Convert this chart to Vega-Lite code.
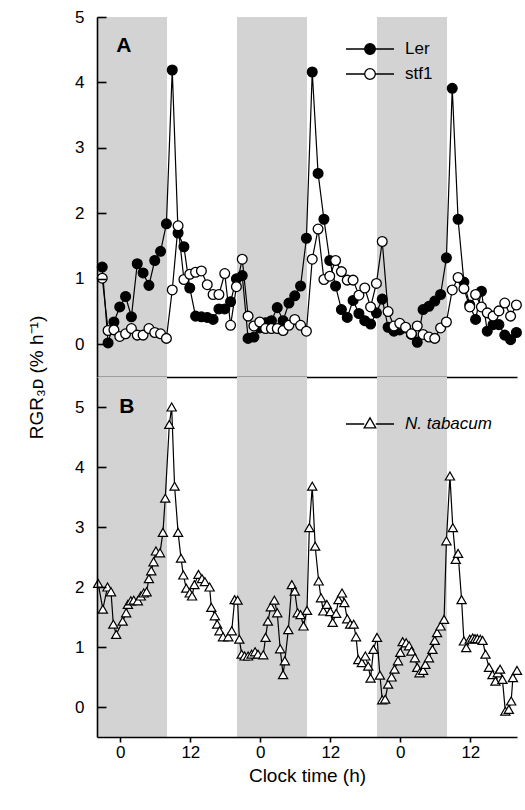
{
  "$schema": "https://vega.github.io/schema/vega-lite/v6.json",
  "background": "white",
  "padding": {"left": 27, "top": 8, "right": 5, "bottom": 5},
  "bounds": "flush",
  "spacing": 0,
  "config": {
    "font": "Liberation Sans",
    "view": {"stroke": null},
    "axis": {"grid": false, "domainColor": "black", "domainWidth": 1.6, "tickColor": "black", "tickWidth": 1.6, "labelColor": "black", "labelFont": "Liberation Sans", "labelFontSize": 17, "titleFont": "Liberation Sans", "titleFontSize": 19, "titleFontWeight": "normal", "titleColor": "black"},
    "legend": {"labelFont": "Liberation Sans", "labelFontSize": 17, "labelColor": "black"}
  },
  "datasets": {
    "nights": [{"start": -4, "end": 8}, {"start": 20, "end": 32}, {"start": 44, "end": 56}],
    "A": [
      {"series": "Ler", "t": -3.1, "v": 1.18}, {"series": "Ler", "t": -2.1, "v": 0.02}, {"series": "Ler", "t": -1.1, "v": 0.34}, {"series": "Ler", "t": -0.1, "v": 0.57},
      {"series": "Ler", "t": 0.9, "v": 0.73}, {"series": "Ler", "t": 1.9, "v": 0.42}, {"series": "Ler", "t": 2.9, "v": 1.23}, {"series": "Ler", "t": 3.9, "v": 1.09},
      {"series": "Ler", "t": 4.9, "v": 0.90}, {"series": "Ler", "t": 5.9, "v": 1.28}, {"series": "Ler", "t": 6.9, "v": 1.42}, {"series": "Ler", "t": 7.9, "v": 1.84},
      {"series": "Ler", "t": 8.9, "v": 4.19}, {"series": "Ler", "t": 9.9, "v": 1.70}, {"series": "Ler", "t": 10.9, "v": 1.49}, {"series": "Ler", "t": 11.9, "v": 0.86},
      {"series": "Ler", "t": 12.9, "v": 0.43}, {"series": "Ler", "t": 13.9, "v": 0.42}, {"series": "Ler", "t": 14.9, "v": 0.41}, {"series": "Ler", "t": 15.9, "v": 0.38},
      {"series": "Ler", "t": 16.9, "v": 0.54}, {"series": "Ler", "t": 17.9, "v": 0.54}, {"series": "Ler", "t": 18.9, "v": 0.65}, {"series": "Ler", "t": 19.9, "v": 1.00},
      {"series": "Ler", "t": 20.9, "v": 1.05}, {"series": "Ler", "t": 21.9, "v": 0.09}, {"series": "Ler", "t": 22.9, "v": 0.11}, {"series": "Ler", "t": 23.9, "v": 0.25},
      {"series": "Ler", "t": 24.9, "v": 0.33}, {"series": "Ler", "t": 25.9, "v": 0.36}, {"series": "Ler", "t": 26.9, "v": 0.56}, {"series": "Ler", "t": 27.9, "v": 0.36},
      {"series": "Ler", "t": 28.9, "v": 0.63}, {"series": "Ler", "t": 29.9, "v": 0.74}, {"series": "Ler", "t": 30.9, "v": 0.89}, {"series": "Ler", "t": 31.9, "v": 1.62},
      {"series": "Ler", "t": 32.9, "v": 4.16}, {"series": "Ler", "t": 33.9, "v": 2.61}, {"series": "Ler", "t": 34.9, "v": 1.91}, {"series": "Ler", "t": 35.9, "v": 1.28},
      {"series": "Ler", "t": 36.9, "v": 0.89}, {"series": "Ler", "t": 37.9, "v": 0.53}, {"series": "Ler", "t": 38.9, "v": 0.41}, {"series": "Ler", "t": 39.9, "v": 0.67},
      {"series": "Ler", "t": 40.9, "v": 0.47}, {"series": "Ler", "t": 41.9, "v": 0.36}, {"series": "Ler", "t": 42.9, "v": 0.31}, {"series": "Ler", "t": 43.9, "v": 0.48},
      {"series": "Ler", "t": 44.9, "v": 0.69}, {"series": "Ler", "t": 45.9, "v": 0.26}, {"series": "Ler", "t": 46.9, "v": 0.20}, {"series": "Ler", "t": 47.9, "v": 0.22},
      {"series": "Ler", "t": 48.9, "v": 0.25}, {"series": "Ler", "t": 49.9, "v": 0.15}, {"series": "Ler", "t": 50.9, "v": 0.03}, {"series": "Ler", "t": 51.9, "v": 0.53},
      {"series": "Ler", "t": 52.9, "v": 0.58}, {"series": "Ler", "t": 53.9, "v": 0.66}, {"series": "Ler", "t": 54.9, "v": 0.76}, {"series": "Ler", "t": 55.9, "v": 1.32},
      {"series": "Ler", "t": 56.9, "v": 3.91}, {"series": "Ler", "t": 57.9, "v": 1.91}, {"series": "Ler", "t": 58.9, "v": 0.95}, {"series": "Ler", "t": 59.9, "v": 0.60},
      {"series": "Ler", "t": 60.9, "v": 0.38}, {"series": "Ler", "t": 61.9, "v": 0.81}, {"series": "Ler", "t": 62.9, "v": 0.20}, {"series": "Ler", "t": 63.9, "v": 0.30},
      {"series": "Ler", "t": 64.9, "v": 0.30}, {"series": "Ler", "t": 65.9, "v": 0.14}, {"series": "Ler", "t": 66.9, "v": 0.07}, {"series": "Ler", "t": 67.9, "v": 0.18},
      {"series": "stf1", "t": -3.1, "v": 1.01}, {"series": "stf1", "t": -2.1, "v": 0.21}, {"series": "stf1", "t": -1.1, "v": 0.22}, {"series": "stf1", "t": -0.1, "v": 0.12},
      {"series": "stf1", "t": 0.9, "v": 0.16}, {"series": "stf1", "t": 1.9, "v": 0.24}, {"series": "stf1", "t": 2.9, "v": 0.14}, {"series": "stf1", "t": 3.9, "v": 0.14},
      {"series": "stf1", "t": 4.9, "v": 0.24}, {"series": "stf1", "t": 5.9, "v": 0.18}, {"series": "stf1", "t": 6.9, "v": 0.16}, {"series": "stf1", "t": 7.9, "v": 0.09},
      {"series": "stf1", "t": 8.9, "v": 0.83}, {"series": "stf1", "t": 9.9, "v": 1.81}, {"series": "stf1", "t": 10.9, "v": 0.99}, {"series": "stf1", "t": 11.9, "v": 1.07},
      {"series": "stf1", "t": 12.9, "v": 1.10}, {"series": "stf1", "t": 13.9, "v": 1.12}, {"series": "stf1", "t": 14.9, "v": 0.91}, {"series": "stf1", "t": 15.9, "v": 0.76},
      {"series": "stf1", "t": 16.9, "v": 0.76}, {"series": "stf1", "t": 17.9, "v": 1.08}, {"series": "stf1", "t": 18.9, "v": 0.29}, {"series": "stf1", "t": 19.9, "v": 0.88},
      {"series": "stf1", "t": 20.9, "v": 1.30}, {"series": "stf1", "t": 21.9, "v": 0.43}, {"series": "stf1", "t": 22.9, "v": 0.28}, {"series": "stf1", "t": 23.9, "v": 0.34},
      {"series": "stf1", "t": 24.9, "v": 0.24}, {"series": "stf1", "t": 25.9, "v": 0.24}, {"series": "stf1", "t": 26.9, "v": 0.24}, {"series": "stf1", "t": 27.9, "v": 0.21},
      {"series": "stf1", "t": 28.9, "v": 0.29}, {"series": "stf1", "t": 29.9, "v": 0.38}, {"series": "stf1", "t": 30.9, "v": 0.29}, {"series": "stf1", "t": 31.9, "v": 0.20},
      {"series": "stf1", "t": 32.9, "v": 1.30}, {"series": "stf1", "t": 33.9, "v": 1.76}, {"series": "stf1", "t": 34.9, "v": 0.99}, {"series": "stf1", "t": 35.9, "v": 1.04},
      {"series": "stf1", "t": 36.9, "v": 1.28}, {"series": "stf1", "t": 37.9, "v": 1.11}, {"series": "stf1", "t": 38.9, "v": 0.98}, {"series": "stf1", "t": 39.9, "v": 0.98},
      {"series": "stf1", "t": 40.9, "v": 0.75}, {"series": "stf1", "t": 41.9, "v": 0.86}, {"series": "stf1", "t": 42.9, "v": 0.57}, {"series": "stf1", "t": 43.9, "v": 0.93},
      {"series": "stf1", "t": 44.9, "v": 1.57}, {"series": "stf1", "t": 45.9, "v": 0.50}, {"series": "stf1", "t": 46.9, "v": 0.28}, {"series": "stf1", "t": 47.9, "v": 0.32},
      {"series": "stf1", "t": 48.9, "v": 0.26}, {"series": "stf1", "t": 49.9, "v": 0.16}, {"series": "stf1", "t": 50.9, "v": 0.28}, {"series": "stf1", "t": 51.9, "v": 0.15},
      {"series": "stf1", "t": 52.9, "v": 0.11}, {"series": "stf1", "t": 53.9, "v": 0.09}, {"series": "stf1", "t": 54.9, "v": 0.25}, {"series": "stf1", "t": 55.9, "v": 0.34},
      {"series": "stf1", "t": 56.9, "v": 0.83}, {"series": "stf1", "t": 57.9, "v": 1.02}, {"series": "stf1", "t": 58.9, "v": 0.85}, {"series": "stf1", "t": 59.9, "v": 0.57},
      {"series": "stf1", "t": 60.9, "v": 0.76}, {"series": "stf1", "t": 61.9, "v": 0.57}, {"series": "stf1", "t": 62.9, "v": 0.48}, {"series": "stf1", "t": 63.9, "v": 0.43},
      {"series": "stf1", "t": 64.9, "v": 0.51}, {"series": "stf1", "t": 65.9, "v": 0.63}, {"series": "stf1", "t": 66.9, "v": 0.43}, {"series": "stf1", "t": 67.9, "v": 0.60}
    ],
    "B": [
      {"species": "N. tabacum", "t": -3.8, "v": 2.06}, {"species": "N. tabacum", "t": -3.0, "v": 1.63}, {"species": "N. tabacum", "t": -2.2, "v": 2.00}, {"species": "N. tabacum", "t": -1.6, "v": 1.92},
      {"species": "N. tabacum", "t": -1.2, "v": 1.38}, {"species": "N. tabacum", "t": -0.7, "v": 1.21}, {"species": "N. tabacum", "t": 0.4, "v": 1.43}, {"species": "N. tabacum", "t": 1.0, "v": 1.57},
      {"species": "N. tabacum", "t": 1.3, "v": 1.71}, {"species": "N. tabacum", "t": 1.8, "v": 1.77}, {"species": "N. tabacum", "t": 2.3, "v": 1.78}, {"species": "N. tabacum", "t": 3.0, "v": 1.77},
      {"species": "N. tabacum", "t": 3.5, "v": 1.85}, {"species": "N. tabacum", "t": 4.0, "v": 1.90}, {"species": "N. tabacum", "t": 4.5, "v": 1.92}, {"species": "N. tabacum", "t": 4.9, "v": 2.14},
      {"species": "N. tabacum", "t": 5.3, "v": 2.27}, {"species": "N. tabacum", "t": 5.7, "v": 2.42}, {"species": "N. tabacum", "t": 6.1, "v": 2.60}, {"species": "N. tabacum", "t": 6.8, "v": 2.57},
      {"species": "N. tabacum", "t": 7.3, "v": 2.91}, {"species": "N. tabacum", "t": 7.7, "v": 3.48}, {"species": "N. tabacum", "t": 8.4, "v": 4.71}, {"species": "N. tabacum", "t": 8.8, "v": 5.00},
      {"species": "N. tabacum", "t": 9.3, "v": 3.68}, {"species": "N. tabacum", "t": 9.9, "v": 2.91}, {"species": "N. tabacum", "t": 10.4, "v": 2.48}, {"species": "N. tabacum", "t": 10.8, "v": 2.20},
      {"species": "N. tabacum", "t": 11.3, "v": 1.98}, {"species": "N. tabacum", "t": 11.9, "v": 1.90}, {"species": "N. tabacum", "t": 12.3, "v": 1.85}, {"species": "N. tabacum", "t": 12.7, "v": 2.04},
      {"species": "N. tabacum", "t": 13.4, "v": 2.21}, {"species": "N. tabacum", "t": 14.0, "v": 2.14}, {"species": "N. tabacum", "t": 14.5, "v": 2.09}, {"species": "N. tabacum", "t": 15.3, "v": 2.00},
      {"species": "N. tabacum", "t": 15.6, "v": 1.66}, {"species": "N. tabacum", "t": 16.2, "v": 1.52}, {"species": "N. tabacum", "t": 16.6, "v": 1.38}, {"species": "N. tabacum", "t": 17.0, "v": 1.27},
      {"species": "N. tabacum", "t": 17.6, "v": 1.17}, {"species": "N. tabacum", "t": 18.5, "v": 1.17}, {"species": "N. tabacum", "t": 19.1, "v": 1.27}, {"species": "N. tabacum", "t": 19.6, "v": 1.79},
      {"species": "N. tabacum", "t": 20.1, "v": 1.78}, {"species": "N. tabacum", "t": 20.4, "v": 1.13}, {"species": "N. tabacum", "t": 20.8, "v": 0.88}, {"species": "N. tabacum", "t": 21.3, "v": 0.85},
      {"species": "N. tabacum", "t": 21.9, "v": 0.85}, {"species": "N. tabacum", "t": 22.5, "v": 0.88}, {"species": "N. tabacum", "t": 23.1, "v": 0.92}, {"species": "N. tabacum", "t": 23.6, "v": 0.88},
      {"species": "N. tabacum", "t": 24.5, "v": 0.87}, {"species": "N. tabacum", "t": 24.9, "v": 1.16}, {"species": "N. tabacum", "t": 25.3, "v": 1.43}, {"species": "N. tabacum", "t": 25.8, "v": 1.67},
      {"species": "N. tabacum", "t": 26.4, "v": 1.78}, {"species": "N. tabacum", "t": 26.9, "v": 1.57}, {"species": "N. tabacum", "t": 27.4, "v": 0.97}, {"species": "N. tabacum", "t": 27.9, "v": 0.54},
      {"species": "N. tabacum", "t": 28.2, "v": 0.77}, {"species": "N. tabacum", "t": 28.8, "v": 1.29}, {"species": "N. tabacum", "t": 29.4, "v": 2.04}, {"species": "N. tabacum", "t": 29.9, "v": 1.93},
      {"species": "N. tabacum", "t": 30.4, "v": 1.57}, {"species": "N. tabacum", "t": 30.9, "v": 1.54}, {"species": "N. tabacum", "t": 31.4, "v": 1.35}, {"species": "N. tabacum", "t": 32.0, "v": 1.61},
      {"species": "N. tabacum", "t": 32.4, "v": 2.99}, {"species": "N. tabacum", "t": 32.9, "v": 3.68}, {"species": "N. tabacum", "t": 33.4, "v": 2.68}, {"species": "N. tabacum", "t": 34.0, "v": 2.10},
      {"species": "N. tabacum", "t": 34.4, "v": 1.82}, {"species": "N. tabacum", "t": 34.8, "v": 1.60}, {"species": "N. tabacum", "t": 35.4, "v": 1.71}, {"species": "N. tabacum", "t": 36.0, "v": 1.59},
      {"species": "N. tabacum", "t": 36.4, "v": 1.41}, {"species": "N. tabacum", "t": 37.0, "v": 1.56}, {"species": "N. tabacum", "t": 37.4, "v": 1.79}, {"species": "N. tabacum", "t": 38.0, "v": 1.90},
      {"species": "N. tabacum", "t": 38.4, "v": 1.74}, {"species": "N. tabacum", "t": 38.9, "v": 1.47}, {"species": "N. tabacum", "t": 39.4, "v": 1.38}, {"species": "N. tabacum", "t": 40.0, "v": 1.38},
      {"species": "N. tabacum", "t": 40.4, "v": 1.17}, {"species": "N. tabacum", "t": 40.8, "v": 0.79}, {"species": "N. tabacum", "t": 41.4, "v": 0.74}, {"species": "N. tabacum", "t": 42.0, "v": 0.85},
      {"species": "N. tabacum", "t": 42.5, "v": 0.68}, {"species": "N. tabacum", "t": 42.9, "v": 0.48}, {"species": "N. tabacum", "t": 43.4, "v": 0.96}, {"species": "N. tabacum", "t": 44.0, "v": 1.16},
      {"species": "N. tabacum", "t": 44.5, "v": 0.53}, {"species": "N. tabacum", "t": 44.9, "v": 0.12}, {"species": "N. tabacum", "t": 45.4, "v": 0.13}, {"species": "N. tabacum", "t": 45.9, "v": 0.38},
      {"species": "N. tabacum", "t": 46.5, "v": 0.50}, {"species": "N. tabacum", "t": 47.0, "v": 0.63}, {"species": "N. tabacum", "t": 47.6, "v": 0.77}, {"species": "N. tabacum", "t": 48.0, "v": 0.91},
      {"species": "N. tabacum", "t": 48.4, "v": 1.09}, {"species": "N. tabacum", "t": 49.0, "v": 1.07}, {"species": "N. tabacum", "t": 49.5, "v": 1.02}, {"species": "N. tabacum", "t": 49.9, "v": 0.93},
      {"species": "N. tabacum", "t": 50.5, "v": 0.82}, {"species": "N. tabacum", "t": 50.9, "v": 0.66}, {"species": "N. tabacum", "t": 51.3, "v": 0.57}, {"species": "N. tabacum", "t": 51.9, "v": 0.61},
      {"species": "N. tabacum", "t": 52.3, "v": 0.71}, {"species": "N. tabacum", "t": 52.9, "v": 0.82}, {"species": "N. tabacum", "t": 53.5, "v": 0.96}, {"species": "N. tabacum", "t": 53.9, "v": 1.11},
      {"species": "N. tabacum", "t": 54.3, "v": 1.24}, {"species": "N. tabacum", "t": 54.9, "v": 1.35}, {"species": "N. tabacum", "t": 55.5, "v": 1.46}, {"species": "N. tabacum", "t": 55.9, "v": 2.77},
      {"species": "N. tabacum", "t": 56.5, "v": 3.85}, {"species": "N. tabacum", "t": 57.0, "v": 2.99}, {"species": "N. tabacum", "t": 57.5, "v": 2.46}, {"species": "N. tabacum", "t": 57.9, "v": 2.56},
      {"species": "N. tabacum", "t": 58.5, "v": 1.79}, {"species": "N. tabacum", "t": 58.9, "v": 1.10}, {"species": "N. tabacum", "t": 59.3, "v": 0.99}, {"species": "N. tabacum", "t": 59.9, "v": 1.13},
      {"species": "N. tabacum", "t": 60.4, "v": 1.15}, {"species": "N. tabacum", "t": 60.8, "v": 1.14}, {"species": "N. tabacum", "t": 61.2, "v": 1.14}, {"species": "N. tabacum", "t": 61.7, "v": 1.13},
      {"species": "N. tabacum", "t": 62.1, "v": 1.11}, {"species": "N. tabacum", "t": 62.6, "v": 0.88}, {"species": "N. tabacum", "t": 63.2, "v": 0.66}, {"species": "N. tabacum", "t": 63.8, "v": 0.54},
      {"species": "N. tabacum", "t": 64.3, "v": 0.43}, {"species": "N. tabacum", "t": 64.7, "v": 0.57}, {"species": "N. tabacum", "t": 65.1, "v": 0.63}, {"species": "N. tabacum", "t": 65.5, "v": 0.46},
      {"species": "N. tabacum", "t": 66.0, "v": -0.07}, {"species": "N. tabacum", "t": 66.6, "v": -0.04}, {"species": "N. tabacum", "t": 67.0, "v": 0.10}, {"species": "N. tabacum", "t": 67.3, "v": 0.49},
      {"species": "N. tabacum", "t": 68.0, "v": 0.61}
    ]
  },
  "resolve": {"scale": {"fill": "independent"}, "legend": {"fill": "independent"}},
  "vconcat": [
    {
      "width": 420,
      "height": 360,
      "layer": [
        {
          "data": {"name": "nights"},
          "mark": {"type": "rect", "color": "#d3d3d3"},
          "encoding": {
            "x": {"field": "start", "type": "quantitative", "scale": {"domain": [-4, 68], "nice": false, "zero": false},
                  "axis": {"title": null, "labels": false, "ticks": false, "domain": true, "zindex": 1}},
            "x2": {"field": "end"}
          }
        },
        {
          "data": {"name": "A"},
          "mark": {"type": "line", "color": "black", "strokeWidth": 1.2},
          "encoding": {
            "x": {"field": "t", "type": "quantitative"},
            "y": {"field": "v", "type": "quantitative", "scale": {"domain": [-0.5, 5], "nice": false, "zero": false},
                  "axis": {"title": "RGR₃ᴅ (% h⁻¹)", "values": [0, 1, 2, 3, 4, 5], "format": "d", "zindex": 1, "tickSize": -9,
                           "labelPadding": 22, "titlePadding": 28, "titleY": 360}},
            "detail": {"field": "series"}
          }
        },
        {
          "data": {"name": "A"},
          "mark": {"type": "point", "shape": "circle", "filled": true, "opacity": 1, "stroke": "black", "strokeWidth": 1.3, "size": 95},
          "encoding": {
            "x": {"field": "t", "type": "quantitative"},
            "y": {"field": "v", "type": "quantitative"},
            "fill": {"field": "series", "type": "nominal", "scale": {"domain": ["Ler", "stf1"], "range": ["black", "white"]},
                     "legend": {"title": null, "orient": "none", "legendX": 262, "legendY": 21,
                                "symbolType": "M-2.4,0H-0.53M0.53,0H2.4M0.53,0A0.53,0.53,0,1,1,-0.53,0A0.53,0.53,0,1,1,0.53,0Z",
                                "symbolSize": 400, "symbolStrokeColor": "black", "symbolStrokeWidth": 1.3, "labelOffset": 24, "rowPadding": 6}}
          }
        },
        {
          "data": {"values": [{"panel": "A"}]},
          "mark": {"type": "text", "fontSize": 21, "fontWeight": "bold", "color": "black"},
          "encoding": {"x": {"datum": 0.6}, "y": {"datum": 4.55}, "text": {"field": "panel"}}
        }
      ]
    },
    {
      "width": 420,
      "height": 360,
      "layer": [
        {
          "data": {"name": "nights"},
          "mark": {"type": "rect", "color": "#d3d3d3"},
          "encoding": {
            "x": {"field": "start", "type": "quantitative", "scale": {"domain": [-4, 68], "nice": false, "zero": false},
                  "axis": {"title": "Clock time (h)", "values": [0, 6, 12, 18, 24, 30, 36, 42, 48, 54, 60, 66], "zindex": 1,
                           "labelExpr": "datum.value % 24 === 0 ? '0' : (datum.value % 12 === 0 ? '12' : '')",
                           "labelPadding": 2, "titlePadding": 6}},
            "x2": {"field": "end"}
          }
        },
        {
          "data": {"name": "B"},
          "mark": {"type": "line", "color": "black", "strokeWidth": 1.2},
          "encoding": {
            "x": {"field": "t", "type": "quantitative"},
            "y": {"field": "v", "type": "quantitative", "scale": {"domain": [-0.5, 5.5], "nice": false, "zero": false},
                  "axis": {"title": null, "values": [0, 1, 2, 3, 4, 5], "format": "d", "zindex": 1, "tickSize": -9, "labelPadding": 22}}
          }
        },
        {
          "data": {"name": "B"},
          "mark": {"type": "point", "shape": "triangle-up", "filled": true, "opacity": 1, "stroke": "black", "strokeWidth": 1.2, "size": 85},
          "encoding": {
            "x": {"field": "t", "type": "quantitative"},
            "y": {"field": "v", "type": "quantitative"},
            "fill": {"field": "species", "type": "nominal", "scale": {"domain": ["N. tabacum"], "range": ["white"]},
                     "legend": {"title": null, "orient": "none", "legendX": 262, "legendY": 36,
                                "symbolType": "M-2.4,0H-0.58M0.58,0H2.4M0,-0.62L0.58,0.38L-0.58,0.38Z",
                                "symbolSize": 400, "symbolStrokeColor": "black", "symbolStrokeWidth": 1.3, "labelOffset": 24, "labelFontStyle": "italic"}}
          }
        },
        {
          "data": {"values": [{"panel": "B"}]},
          "mark": {"type": "text", "fontSize": 21, "fontWeight": "bold", "color": "black"},
          "encoding": {"x": {"datum": 1.1}, "y": {"datum": 5.0}, "text": {"field": "panel"}}
        }
      ]
    }
  ]
}
